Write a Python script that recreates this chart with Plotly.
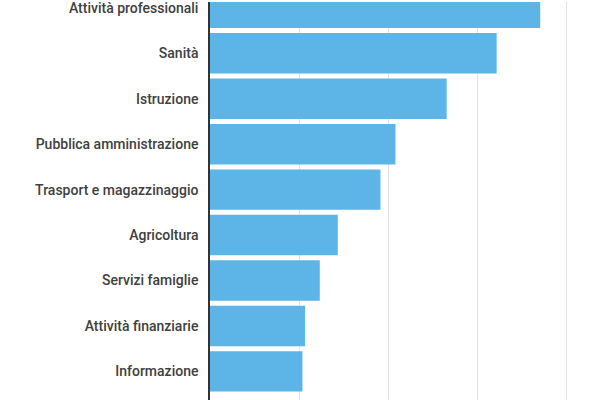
import plotly.graph_objects as go

# settori, dal basso verso l'alto
settori = ["Informazione", "Attività finanziarie", "Servizi famiglie", "Agricoltura",
           "Trasport e magazzinaggio", "Pubblica amministrazione", "Istruzione",
           "Sanità", "Attività professionali"]
valori = [5.18, 5.33, 6.15, 7.16, 9.55, 10.39, 13.26, 16.06, 18.5]

fig = go.Figure(go.Bar(
    x=valori, y=settori, orientation="h",
    marker=dict(color="#5cb5e6", line=dict(width=0)),
))

fig.update_layout(
    width=600, height=400,
    margin=dict(l=210, r=0, t=0, b=0),
    plot_bgcolor="white", paper_bgcolor="white",
    bargap=0.11, showlegend=False,
    font=dict(family="Roboto", size=14, color="#404040", weight=500),
)
fig.update_xaxes(range=[0, 21.85], dtick=5, showticklabels=False,
                 showgrid=True, gridcolor="#e2e2e2", gridwidth=1, zeroline=False)
fig.update_yaxes(range=[-0.63, 8.13], showline=True, linecolor="#333333", linewidth=1.5,
                 ticks="", ticklabelstandoff=7, showgrid=False)

# niente margine del body, il grafico parte dall'angolo in alto a sinistra
fig.write_html("out.html", config={"displayModeBar": False},
               post_script="document.body.style.margin='0';")
